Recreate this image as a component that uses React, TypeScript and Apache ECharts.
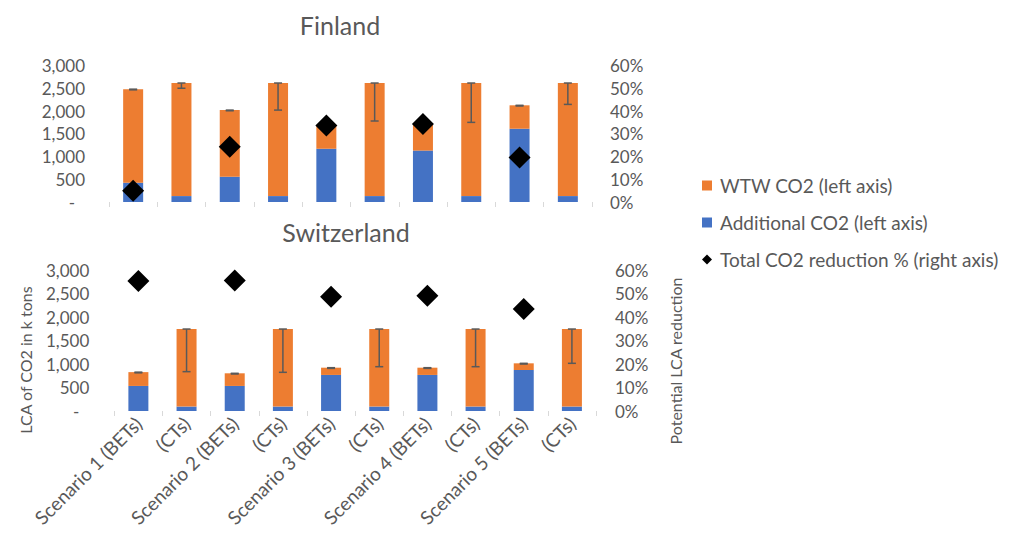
import { useEffect, useRef } from 'react';
import * as echarts from 'echarts';

// Category labels (shared by both countries)
const categories = [
  'Scenario 1 (BETs)', '(CTs)',
  'Scenario 2 (BETs)', '(CTs)',
  'Scenario 3 (BETs)', '(CTs)',
  'Scenario 4 (BETs)', '(CTs)',
  'Scenario 5 (BETs)', '(CTs)',
];

// Finland, k tons CO2
const finlandAdditional = [425, 130, 555, 130, 1170, 130, 1130, 130, 1610, 130];
const finlandWtw = [2055, 2485, 1465, 2485, 525, 2485, 570, 2485, 515, 2485];
const finlandErrLow = [2465, 2500, 2005, 2020, 1680, 1780, 1685, 1750, 2110, 2145];
// Finland total reduction %, one per scenario (BETs position)
const finlandReduction = [5.0, 24.3, 33.6, 34.3, 19.6];

// Switzerland, k tons CO2
const swissAdditional = [535, 95, 535, 95, 770, 95, 770, 95, 875, 95];
const swissWtw = [295, 1655, 270, 1655, 155, 1655, 155, 1655, 143, 1655];
const swissErrLow = [815, 840, 790, 826, 910, 946, 910, 946, 1003, 1018];
const swissReduction = [55.5, 55.7, 48.8, 49.2, 43.6];

const leftTicks = { min: 0, max: 3000, interval: 500 };
const rightTicks = { min: 0, max: 60, interval: 10 };

const ORANGE = '#ED7D31';
const BLUE = '#4472C4';
const GREY = '#595959';
const TICK = '#D9D9D9';
const FONT = 'Lato, "Open Sans", sans-serif';

const NAME_WTW = 'WTW CO2 (left axis)';
const NAME_ADD = 'Additional CO2 (left axis)';
const NAME_RED = 'Total CO2 reduction % (right axis)';

function totals(add: number[], wtw: number[]) {
  return add.map((a, i) => a + wtw[i]);
}

function errorBars(xAxisIndex: number, yAxisIndex: number, low: number[], high: number[]) {
  return {
    type: 'custom',
    xAxisIndex,
    yAxisIndex,
    silent: true,
    z: 5,
    data: low.map((l, i) => [i, l, high[i]]),
    encode: { x: 0, y: [1, 2] },
    renderItem: (_params: any, api: any) => {
      const lo = api.coord([api.value(0), api.value(1)]);
      const hi = api.coord([api.value(0), api.value(2)]);
      const w = 4;
      const style = { stroke: GREY, lineWidth: 1.5 };
      return {
        type: 'group',
        children: [
          { type: 'line', shape: { x1: lo[0], y1: lo[1], x2: hi[0], y2: hi[1] }, style },
          { type: 'line', shape: { x1: lo[0] - w, y1: lo[1], x2: lo[0] + w, y2: lo[1] }, style },
          { type: 'line', shape: { x1: hi[0] - w, y1: hi[1], x2: hi[0] + w, y2: hi[1] }, style },
        ],
      };
    },
  };
}

function countrySeries(
  idx: number,
  add: number[],
  wtw: number[],
  errLow: number[],
  reduction: number[],
) {
  const left = idx * 2;
  const right = idx * 2 + 1;
  return [
    {
      name: NAME_ADD,
      type: 'bar',
      xAxisIndex: idx,
      yAxisIndex: left,
      stack: 'co2' + idx,
      barWidth: 20,
      itemStyle: { color: BLUE },
      data: add,
    },
    {
      name: NAME_WTW,
      type: 'bar',
      xAxisIndex: idx,
      yAxisIndex: left,
      stack: 'co2' + idx,
      barWidth: 20,
      itemStyle: { color: ORANGE },
      data: wtw,
    },
    errorBars(idx, left, errLow, totals(add, wtw)),
    {
      name: NAME_RED,
      type: 'scatter',
      xAxisIndex: idx,
      yAxisIndex: right,
      symbol: 'diamond',
      symbolSize: 22,
      z: 6,
      itemStyle: { color: '#000000', opacity: 1 },
      data: reduction.map((v, i) => [i * 2, v]),
    },
  ];
}

function leftAxis(gridIndex: number, margin: number) {
  return {
    type: 'value',
    gridIndex,
    position: 'left',
    ...leftTicks,
    splitLine: { show: false },
    axisLine: { show: false },
    axisTick: { show: false },
    axisLabel: {
      color: GREY,
      fontFamily: FONT,
      fontSize: 17,
      margin,
      formatter: (v: number) => (v === 0 ? '{dash|-}' : v.toLocaleString('en-US')),
      rich: { dash: { color: GREY, fontFamily: FONT, fontSize: 17, padding: [0, 10, 0, 0] } },
    },
  };
}

function rightAxis(gridIndex: number, margin: number) {
  return {
    type: 'value',
    gridIndex,
    position: 'right',
    ...rightTicks,
    splitLine: { show: false },
    axisLine: { show: false },
    axisTick: { show: false },
    axisLabel: {
      color: GREY,
      fontFamily: FONT,
      fontSize: 17,
      margin,
      formatter: '{value}%',
    },
  };
}

function categoryAxis(gridIndex: number, showLabels: boolean) {
  return {
    type: 'category',
    gridIndex,
    data: categories,
    axisLine: { show: false },
    axisTick: { show: true, length: 5, lineStyle: { color: TICK, width: 1 } },
    axisLabel: {
      show: showLabels,
      interval: 0,
      rotate: 45,
      margin: 9,
      color: GREY,
      fontFamily: FONT,
      fontSize: 19,
    },
  };
}

export default function App() {
  const ref = useRef<HTMLDivElement>(null);

  useEffect(() => {
    if (!ref.current) return;
    const chart = echarts.init(ref.current, undefined, { renderer: 'svg' });
    chart.setOption({
      animation: false,
      backgroundColor: '#ffffff',
      textStyle: { fontFamily: FONT },
      grid: [
        { left: 109, right: 424, top: 65.5, height: 136.5, containLabel: false },
        { left: 114.3, right: 420, top: 270.5, height: 140.5, containLabel: false },
      ],
      xAxis: [categoryAxis(0, false), categoryAxis(1, true)],
      yAxis: [leftAxis(0, 24), rightAxis(0, 18), leftAxis(1, 25), rightAxis(1, 19)],
      legend: {
        orient: 'vertical',
        left: 697,
        top: 171,
        itemWidth: 10,
        itemHeight: 10,
        itemGap: 18,
        selectedMode: false,
        textStyle: { color: GREY, fontFamily: FONT, fontSize: 19, padding: [0, 0, 0, 3] },
        data: [
          { name: NAME_WTW, icon: 'rect' },
          { name: NAME_ADD, icon: 'rect' },
          { name: NAME_RED, icon: 'diamond' },
        ],
      },
      graphic: [
        {
          type: 'text',
          x: 340,
          y: 25,
          style: { text: 'Finland', fill: GREY, font: `25px ${FONT}`, textAlign: 'center', textVerticalAlign: 'middle' },
        },
        {
          type: 'text',
          x: 346,
          y: 232,
          style: { text: 'Switzerland', fill: GREY, font: `25px ${FONT}`, textAlign: 'center', textVerticalAlign: 'middle' },
        },
        {
          type: 'text',
          x: 25,
          y: 360,
          rotation: Math.PI / 2,
          style: { text: 'LCA of CO2 in k tons', fill: GREY, font: `16px ${FONT}`, textAlign: 'center', textVerticalAlign: 'middle' },
        },
        {
          type: 'text',
          x: 675,
          y: 361,
          rotation: Math.PI / 2,
          style: { text: 'Potential LCA reduction', fill: GREY, font: `16px ${FONT}`, textAlign: 'center', textVerticalAlign: 'middle' },
        },
      ],
      series: [
        ...countrySeries(0, finlandAdditional, finlandWtw, finlandErrLow, finlandReduction),
        ...countrySeries(1, swissAdditional, swissWtw, swissErrLow, swissReduction),
      ],
    });
    return () => chart.dispose();
  }, []);

  return (
    <div
      ref={ref}
      style={{ position: 'fixed', left: 0, top: 0, width: 1016, height: 537 }}
    />
  );
}
